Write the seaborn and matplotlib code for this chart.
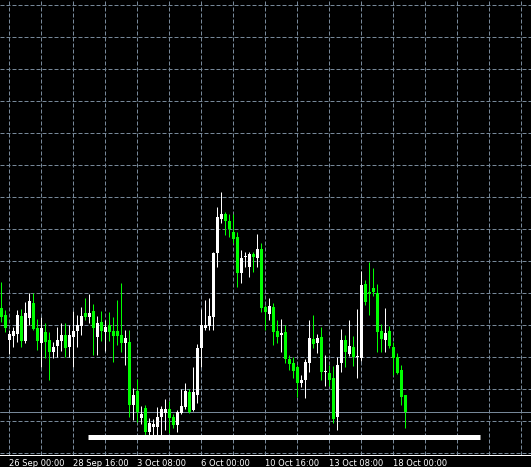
import numpy as np
import pandas as pd
import seaborn as sns
import matplotlib.pyplot as plt

# H4 candles (price scale is assumed, grid step 0.0032)
opens = [1.1647, 1.1640, 1.1615, 1.1619, 1.1621, 1.1639, 1.1614, 1.1637, 1.1652, 1.1627,
         1.1612, 1.1623, 1.1615, 1.1603, 1.1609, 1.1614, 1.1620, 1.1608, 1.1618, 1.1624,
         1.1629, 1.1642, 1.1638, 1.1644, 1.1618, 1.1633, 1.1623, 1.1630, 1.1624, 1.1624,
         1.1620, 1.1612, 1.1613, 1.1550, 1.1564, 1.1537, 1.1547, 1.1523, 1.1528, 1.1528,
         1.1538, 1.1542, 1.1546, 1.1538, 1.1530, 1.1542, 1.1548, 1.1563, 1.1545, 1.1560,
         1.1607, 1.1627, 1.1629, 1.1638, 1.1702, 1.1736, 1.1741, 1.1734, 1.1723, 1.1718,
         1.1682, 1.1698, 1.1688, 1.1701, 1.1697, 1.1706, 1.1648, 1.1641, 1.1648, 1.1624,
         1.1620, 1.1623, 1.1596, 1.1592, 1.1588, 1.1572, 1.1575, 1.1592, 1.1616, 1.1612,
         1.1618, 1.1583, 1.1582, 1.1577, 1.1538, 1.1592, 1.1615, 1.1601, 1.1608, 1.1598,
         1.1597, 1.1671, 1.1663, 1.1667, 1.1662, 1.1624, 1.1615, 1.1624, 1.1608, 1.1598,
         1.1585, 1.1560]
highs = [1.1673, 1.1645, 1.1625, 1.1628, 1.1645, 1.1646, 1.1653, 1.1662, 1.1662, 1.1636,
         1.1638, 1.1632, 1.1623, 1.1613, 1.1628, 1.1632, 1.1632, 1.1630, 1.1644, 1.1640,
         1.1648, 1.1657, 1.1661, 1.1651, 1.1639, 1.1644, 1.1635, 1.1643, 1.1638, 1.1655,
         1.1672, 1.1625, 1.1625, 1.1567, 1.1576, 1.1549, 1.1550, 1.1537, 1.1536, 1.1548,
         1.1549, 1.1556, 1.1554, 1.1541, 1.1545, 1.1566, 1.1572, 1.1566, 1.1588, 1.1611,
         1.1646, 1.1655, 1.1657, 1.1703, 1.1748, 1.1763, 1.1743, 1.1741, 1.1741, 1.1723,
         1.1705, 1.1703, 1.1703, 1.1703, 1.1721, 1.1712, 1.1650, 1.1657, 1.1652, 1.1635,
         1.1636, 1.1630, 1.1600, 1.1598, 1.1590, 1.1580, 1.1596, 1.1635, 1.1640, 1.1621,
         1.1628, 1.1600, 1.1590, 1.1589, 1.1598, 1.1626, 1.1620, 1.1635, 1.1619, 1.1646,
         1.1684, 1.1675, 1.1693, 1.1687, 1.1671, 1.1631, 1.1647, 1.1629, 1.1613, 1.1602,
         1.1590, 1.1560]
lows = [1.1633, 1.1623, 1.1601, 1.1608, 1.1613, 1.1608, 1.1612, 1.1630, 1.1625, 1.1605,
        1.1588, 1.1597, 1.1575, 1.1597, 1.1598, 1.1604, 1.1598, 1.1598, 1.1588, 1.1608,
        1.1620, 1.1635, 1.1632, 1.1600, 1.1600, 1.1614, 1.1604, 1.1614, 1.1593, 1.1610,
        1.1603, 1.1590, 1.1538, 1.1535, 1.1533, 1.1531, 1.1520, 1.1520, 1.1520, 1.1520,
        1.1520, 1.1525, 1.1522, 1.1527, 1.1523, 1.1541, 1.1546, 1.1542, 1.1544, 1.1552,
        1.1588, 1.1625, 1.1625, 1.1625, 1.1688, 1.1732, 1.1720, 1.1718, 1.1712, 1.1668,
        1.1672, 1.1688, 1.1678, 1.1683, 1.1688, 1.1643, 1.1625, 1.1635, 1.1610, 1.1612,
        1.1603, 1.1592, 1.1585, 1.1577, 1.1558, 1.1568, 1.1557, 1.1583, 1.1607, 1.1602,
        1.1575, 1.1569, 1.1569, 1.1532, 1.1525, 1.1583, 1.1588, 1.1599, 1.1589, 1.1577,
        1.1594, 1.1650, 1.1640, 1.1659, 1.1603, 1.1603, 1.1603, 1.1607, 1.1580, 1.1581,
        1.1550, 1.1527]
closes = [1.1638, 1.1627, 1.1621, 1.1624, 1.1640, 1.1614, 1.1642, 1.1654, 1.1626, 1.1614,
          1.1627, 1.1613, 1.1603, 1.1608, 1.1615, 1.1620, 1.1607, 1.1620, 1.1624, 1.1630,
          1.1639, 1.1638, 1.1642, 1.1627, 1.1632, 1.1624, 1.1628, 1.1623, 1.1619, 1.1619,
          1.1612, 1.1617, 1.1550, 1.1560, 1.1543, 1.1541, 1.1523, 1.1532, 1.1531, 1.1538,
          1.1546, 1.1546, 1.1537, 1.1530, 1.1543, 1.1549, 1.1564, 1.1543, 1.1563, 1.1607,
          1.1630, 1.1630, 1.1639, 1.1702, 1.1738, 1.1741, 1.1734, 1.1726, 1.1716, 1.1682,
          1.1697, 1.1699, 1.1701, 1.1698, 1.1706, 1.1647, 1.1643, 1.1649, 1.1623, 1.1618,
          1.1622, 1.1596, 1.1591, 1.1584, 1.1572, 1.1575, 1.1593, 1.1617, 1.1611, 1.1617,
          1.1583, 1.1584, 1.1575, 1.1536, 1.1590, 1.1615, 1.1603, 1.1609, 1.1598, 1.1599,
          1.1670, 1.1653, 1.1661, 1.1663, 1.1623, 1.1616, 1.1622, 1.1609, 1.1597, 1.1582,
          1.1558, 1.1543]

tick_pos = [2, 18, 34, 50, 66, 82, 98]
tick_labels = ["26 Sep 00:00", "28 Sep 16:00", "3 Oct 08:00", "6 Oct 00:00",
               "10 Oct 16:00", "13 Oct 08:00", "18 Oct 00:00"]

bid = 1.1543
support = 1.1518
support_span = [21.75, 119.75]

df = pd.DataFrame({"open": opens, "high": highs, "low": lows, "close": closes})
df["x"] = np.arange(len(df))
df["bull"] = df["close"] >= df["open"]
df["color"] = np.where(df["bull"], "#FFFFFF", "#00FF00")
df["bottom"] = df[["open", "close"]].min(axis=1)
df["height"] = (df["close"] - df["open"]).abs().clip(lower=0.0001)

sns.set_theme(style="dark", rc={"axes.facecolor": "black", "figure.facecolor": "black",
                                "savefig.facecolor": "black"})
plt.rcParams["font.family"] = ["DejaVu Sans"]

px = 72 / 100  # one pixel in points
fig = plt.figure(figsize=(5.31, 4.67), dpi=100)
ax = fig.add_axes([0, 12 / 467, 1, 455 / 467])

grid_color = "#778899"
ax.set_xlim(-0.25, 132.5)
ax.set_ylim(1.1500, 1.1955)
ax.set_yticks(np.arange(1.1502, 1.1955, 0.0032))
ax.set_yticklabels([])
ax.set_xticks(tick_pos)
ax.set_xticklabels(tick_labels)
ax.set_xticks(np.arange(2, 133, 8), minor=True)
ax.grid(which="both", axis="both", color=grid_color, linewidth=px,
        linestyle=(0, (4, 2)))
ax.set_axisbelow(True)

# wicks then bodies
ax.vlines(df["x"], df["low"], df["high"], colors=df["color"], linewidth=px, zorder=3)
ax.bar(df["x"], df["height"], bottom=df["bottom"], width=0.75, color=df["color"],
       linewidth=0, zorder=4)

ax.axhline(bid, color=grid_color, linewidth=px, zorder=2)
sns.lineplot(x=support_span, y=[support, support], color="white", linewidth=5 * px,
             ax=ax, zorder=5, solid_capstyle="butt")

for side in ["top", "left", "right"]:
    ax.spines[side].set_visible(False)
ax.spines["bottom"].set_color("white")
ax.spines["bottom"].set_linewidth(px)
ax.tick_params(axis="x", which="major", length=3 * px, width=px, color="white",
               labelcolor="white", labelsize=6, pad=0.5, direction="out")
ax.tick_params(axis="x", which="minor", length=0)
ax.tick_params(axis="y", length=0)
for lbl in ax.get_xticklabels():
    lbl.set_horizontalalignment("left")
ax.set_xlabel("")
ax.set_ylabel("")

fig.savefig("out.png", dpi=100, facecolor="black")
